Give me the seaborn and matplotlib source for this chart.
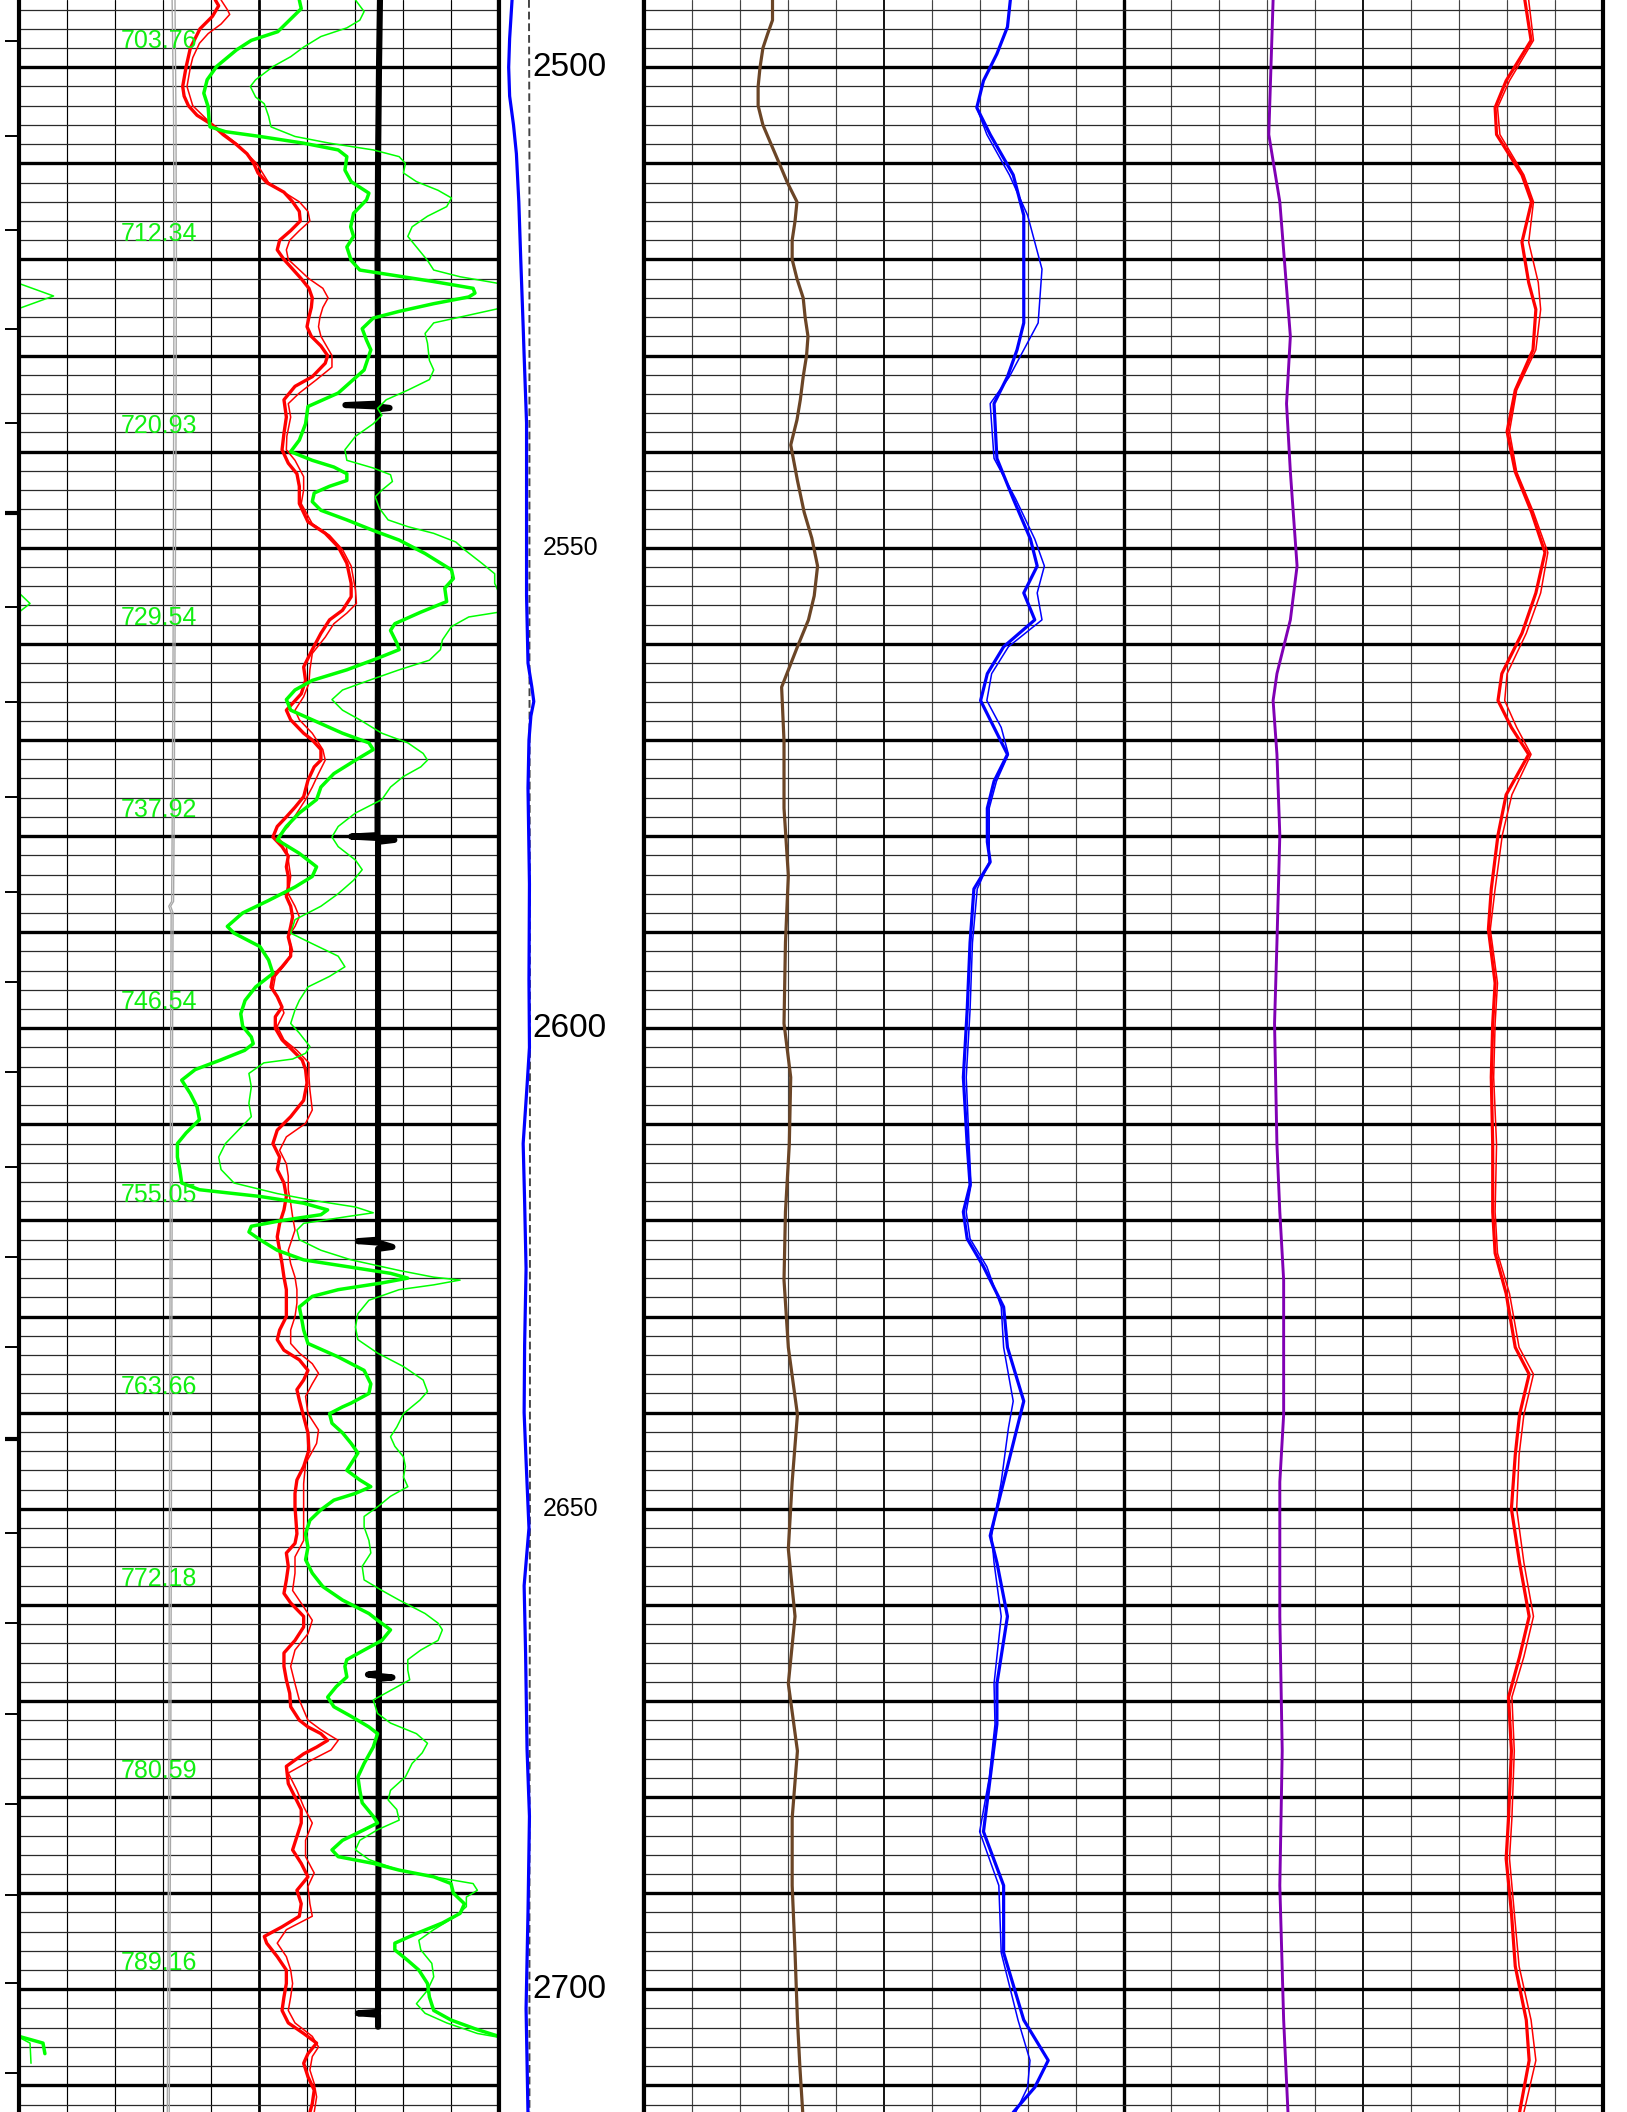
import matplotlib
matplotlib.use("Agg")
import matplotlib.pyplot as plt
import matplotlib.transforms as mtransforms
import seaborn as sns
import numpy as np

sns.set_theme(style="white")
plt.rcParams['font.family'] = ['Liberation Sans', 'DejaVu Sans']

# ---------------- data (depth, value) ----------------
# Left track (scale 0..10 divisions)
red_l_thick_depth = [2493.0,2493.6,2494.7,2496.0,2497.0,2498.0,2500.0,2502.0,2503.0,2504.0,2505.0,2506.0,2507.0,2508.0,2509.0,2510.0,2511.0,2512.0,2513.0,2514.0,2515.0,2516.0,2517.0,2518.0,2519.0,2520.0,2521.0,2522.0,2523.0,2524.0,2525.0,2526.0,2527.0,2528.0,2529.0,2530.0,2530.8,2532.2,2533.2,2534.6,2536.4,2538.1,2539.8,2541.2,2542.3,2543.6,2545.4,2547.3,2548.5,2549.9,2551.6,2553.7,2555.1,2556.5,2557.5,2558.9,2560.6,2562.4,2563.8,2565.2,2566.9,2567.9,2569.3,2570.0,2571.0,2572.1,2572.8,2574.2,2575.9,2577.0,2578.0,2579.0,2580.1,2581.1,2582.1,2583.2,2584.2,2585.3,2586.3,2587.3,2588.4,2589.4,2590.5,2591.5,2592.5,2593.6,2594.6,2595.7,2596.7,2597.8,2598.8,2600.0,2601.2,2602.3,2603.3,2604.3,2605.7,2607.5,2609.2,2610.6,2612.0,2613.4,2614.7,2616.1,2617.5,2618.9,2620.3,2621.7,2623.1,2624.5,2625.9,2627.2,2628.6,2630.0,2631.4,2632.4,2633.5,2634.5,2635.6,2636.6,2637.6,2638.7,2640.4,2642.1,2643.9,2645.6,2647.0,2648.4,2649.8,2651.2,2652.6,2653.6,2654.6,2656.0,2657.4,2658.8,2659.8,2661.2,2662.3,2663.7,2665.0,2666.4,2667.8,2669.2,2670.6,2672.0,2672.7,2673.4,2674.1,2674.8,2675.5,2676.8,2678.6,2680.0,2681.3,2682.7,2684.1,2685.5,2686.9,2688.3,2689.7,2691.1,2692.4,2693.5,2694.5,2695.2,2696.6,2698.0,2699.4,2700.8,2702.2,2703.5,2704.6,2705.6,2706.7,2707.7,2709.1,2710.5,2711.9,2712.8]
red_l_thick_val = [4.09,4.16,4.03,3.77,3.67,3.57,3.48,3.41,3.44,3.53,3.71,4.03,4.25,4.52,4.75,4.89,4.98,5.16,5.52,5.70,5.84,5.86,5.66,5.43,5.38,5.52,5.70,5.88,6.04,6.11,6.09,6.04,6.00,6.09,6.29,6.43,6.38,6.11,5.75,5.52,5.57,5.52,5.48,5.61,5.79,5.84,5.84,6.02,6.38,6.65,6.83,6.92,6.92,6.74,6.47,6.29,6.11,5.93,5.97,5.88,5.57,5.66,5.93,6.11,6.29,6.29,6.15,6.02,5.93,5.75,5.57,5.38,5.29,5.48,5.61,5.57,5.61,5.61,5.57,5.66,5.70,5.66,5.61,5.66,5.66,5.48,5.29,5.25,5.38,5.48,5.34,5.34,5.48,5.70,5.90,5.97,6.00,5.93,5.66,5.38,5.29,5.43,5.38,5.52,5.57,5.52,5.43,5.38,5.43,5.48,5.52,5.57,5.57,5.57,5.43,5.38,5.52,5.84,6.02,5.93,5.79,5.84,5.93,6.02,6.04,5.93,5.79,5.75,5.75,5.77,5.79,5.75,5.57,5.61,5.57,5.52,5.66,5.93,5.93,5.75,5.52,5.52,5.57,5.64,5.66,5.84,6.02,6.29,6.43,6.20,5.93,5.57,5.61,5.75,5.88,5.88,5.79,5.70,5.88,6.02,5.79,5.88,5.84,5.48,5.11,5.16,5.38,5.57,5.57,5.52,5.48,5.61,5.93,6.20,6.02,5.93,6.02,6.15,6.11,6.06]

red_l_thin_depth = [2493.0,2494.0,2494.5,2495.5,2496.5,2497.5,2499.0,2500.0,2502.0,2504.0,2506.0,2508.0,2510.0,2512.0,2514.0,2515.0,2516.0,2517.0,2518.0,2519.0,2520.0,2522.0,2523.0,2524.0,2525.0,2526.0,2527.0,2528.0,2530.0,2531.2,2532.5,2533.9,2535.0,2536.4,2538.4,2539.8,2540.9,2542.6,2544.0,2545.4,2547.5,2548.7,2550.2,2551.9,2554.4,2555.8,2556.8,2557.9,2559.3,2561.0,2562.7,2564.1,2565.5,2566.9,2567.9,2569.3,2571.0,2572.1,2573.5,2574.9,2576.2,2577.6,2579.0,2580.1,2581.1,2582.5,2584.2,2586.0,2587.3,2588.4,2589.4,2590.5,2591.9,2593.2,2594.6,2596.0,2597.1,2598.4,2599.8,2601.2,2602.3,2603.6,2605.0,2606.4,2608.5,2609.9,2611.3,2612.7,2614.1,2615.4,2616.8,2618.2,2619.6,2621.0,2623.1,2624.5,2625.9,2627.2,2628.6,2630.0,2631.4,2632.8,2633.8,2634.9,2635.9,2637.0,2638.3,2640.1,2641.8,2643.2,2645.3,2647.4,2649.1,2651.2,2653.3,2655.0,2656.7,2658.5,2660.2,2661.6,2663.0,2664.7,2666.4,2668.2,2669.9,2672.0,2673.0,2674.1,2675.1,2676.1,2677.5,2679.3,2681.0,2682.7,2684.5,2686.2,2687.9,2689.3,2691.1,2692.4,2693.8,2695.2,2696.6,2698.0,2699.4,2700.8,2702.2,2703.5,2704.9,2706.0,2707.0,2708.4,2709.8,2711.2,2712.8]
red_l_thin_val = [4.21,4.34,4.39,4.21,3.94,3.76,3.62,3.57,3.50,3.62,4.03,4.55,4.95,5.20,5.84,6.02,6.06,5.84,5.64,5.57,5.61,6.04,6.33,6.44,6.33,6.27,6.24,6.29,6.52,6.52,6.20,5.84,5.61,5.66,5.58,5.57,5.75,5.93,5.93,5.88,6.11,6.47,6.74,6.92,7.01,7.03,6.83,6.56,6.38,6.11,6.06,6.04,5.93,5.75,5.84,6.11,6.33,6.38,6.24,6.11,5.97,5.79,5.61,5.38,5.57,5.61,5.66,5.61,5.75,5.84,5.75,5.61,5.70,5.57,5.34,5.29,5.43,5.52,5.38,5.52,5.79,6.04,6.04,6.06,6.11,5.97,5.57,5.43,5.57,5.61,5.61,5.66,5.70,5.75,5.61,5.66,5.75,5.79,5.79,5.75,5.66,5.66,5.84,6.11,6.24,6.11,5.97,6.02,6.24,6.20,5.97,5.93,5.93,5.93,5.93,5.75,5.75,5.70,5.93,6.11,6.02,5.75,5.66,5.75,5.84,6.02,6.29,6.65,6.50,6.11,5.61,5.79,5.93,6.11,5.97,5.97,6.15,6.02,6.06,6.11,5.57,5.38,5.57,5.66,5.70,5.66,5.61,5.75,6.11,6.24,6.11,6.06,6.15,6.20,6.15]

green_l_thick_depth = [2493.0,2493.9,2496.3,2497.2,2498.2,2499.9,2501.3,2502.7,2504.1,2505.5,2506.2,2506.7,2507.2,2507.9,2508.6,2509.3,2510.7,2511.9,2513.1,2513.8,2515.2,2516.6,2517.6,2518.7,2520.1,2521.1,2521.6,2522.3,2523.0,2523.5,2523.9,2524.6,2525.4,2526.1,2527.2,2528.4,2529.4,2531.5,2533.9,2535.3,2537.1,2538.8,2540.0,2540.9,2541.6,2542.3,2543.0,2543.6,2544.3,2545.2,2546.1,2547.1,2548.2,2549.2,2550.6,2552.3,2553.2,2554.2,2555.6,2556.7,2557.9,2558.6,2559.9,2560.6,2561.5,2562.7,2563.8,2564.8,2565.8,2566.9,2567.9,2569.3,2570.3,2571.0,2572.1,2573.5,2574.9,2576.2,2577.6,2579.0,2580.4,2581.8,2583.2,2584.2,2585.3,2586.7,2588.0,2589.4,2590.1,2591.5,2592.9,2594.3,2595.7,2597.1,2598.5,2599.8,2600.9,2601.6,2602.3,2603.3,2604.3,2605.4,2606.8,2608.2,2609.5,2610.9,2612.0,2613.4,2614.7,2616.1,2616.8,2617.5,2618.2,2618.9,2619.4,2620.0,2620.6,2621.2,2622.0,2623.1,2624.1,2624.8,2625.5,2626.0,2626.5,2627.2,2627.9,2629.0,2630.0,2631.4,2632.8,2634.2,2635.6,2637.0,2638.0,2639.0,2639.4,2640.1,2641.1,2642.1,2643.2,2644.2,2644.9,2646.0,2647.0,2647.7,2648.4,2649.1,2650.1,2651.2,2652.6,2654.0,2655.3,2656.7,2658.1,2659.5,2660.9,2661.6,2662.6,2663.7,2664.7,2665.7,2666.4,2667.5,2668.5,2669.6,2670.6,2671.6,2672.7,2673.4,2674.8,2676.5,2677.9,2679.3,2680.6,2682.0,2682.7,2683.4,2684.5,2685.5,2686.2,2686.9,2687.6,2688.3,2689.0,2690.0,2691.1,2692.1,2693.1,2694.2,2695.2,2695.9,2697.0,2698.0,2699.4,2700.8,2702.2,2703.2,2704.2,2704.9,2705.6,2706.7]
green_l_thick_val = [5.84,5.88,5.39,4.84,4.53,4.12,3.92,3.85,3.94,3.96,3.98,4.30,5.02,5.93,6.65,6.83,6.79,6.92,7.29,7.24,6.97,6.91,6.97,6.83,6.92,7.10,7.74,8.64,9.46,9.50,9.37,8.64,7.92,7.38,7.15,7.24,7.33,7.19,6.65,6.02,5.97,5.84,5.66,6.11,6.56,6.83,6.83,6.47,6.15,6.11,6.29,6.83,7.38,7.92,8.46,9.01,9.05,8.87,8.91,8.37,7.83,7.74,7.87,7.92,7.47,6.83,6.11,5.75,5.57,5.66,6.11,6.74,7.29,7.38,7.01,6.56,6.29,6.20,5.84,5.57,5.38,5.84,6.20,6.11,5.75,5.20,4.66,4.34,4.48,5.02,5.20,5.29,4.93,4.71,4.62,4.66,4.84,4.88,4.70,4.20,3.67,3.39,3.57,3.71,3.76,3.48,3.30,3.30,3.35,3.39,3.76,5.02,5.93,6.43,6.29,5.48,4.84,4.79,5.02,5.38,5.93,6.83,7.74,8.10,7.56,6.65,6.11,5.84,5.88,5.93,6.02,6.65,7.19,7.33,7.29,6.92,6.74,6.47,6.52,6.74,6.92,7.06,6.97,6.83,7.10,7.33,7.01,6.56,6.29,6.06,5.97,6.02,5.97,6.11,6.33,6.74,7.29,7.47,7.74,7.56,7.19,6.83,6.79,6.83,6.61,6.43,6.56,6.92,7.29,7.47,7.38,7.19,7.06,7.10,7.15,7.38,7.47,7.19,6.74,6.52,6.65,7.38,7.92,8.64,9.00,9.05,9.28,9.19,8.82,8.28,7.83,7.83,8.10,8.33,8.51,8.55,8.64,9.00,9.55,10.00,10.50,10.54]

green_l_thin_depth = [2493.0,2494.2,2495.1,2495.9,2496.8,2497.9,2498.9,2499.9,2501.3,2502.0,2503.1,2503.8,2505.1,2506.2,2507.2,2507.9,2508.6,2509.3,2510.0,2511.0,2511.9,2512.8,2513.6,2514.5,2515.5,2516.6,2517.6,2518.7,2520.1,2521.1,2521.8,2522.5,2523.8,2525.1,2526.0,2526.6,2527.7,2528.7,2530.5,2531.5,2532.5,2533.6,2534.6,2535.5,2536.2,2537.1,2538.4,2539.8,2540.9,2541.7,2542.4,2543.1,2544.0,2544.7,2545.9,2547.1,2547.8,2548.5,2549.4,2550.2,2551.6,2552.7,2553.7,2554.7,2555.8,2556.7,2557.2,2558.2,2559.6,2560.6,2561.7,2562.7,2563.8,2564.8,2565.8,2566.9,2567.9,2569.3,2570.3,2571.4,2572.1,2572.8,2573.8,2574.9,2576.2,2577.6,2579.0,2580.1,2581.1,2582.5,2583.5,2584.6,2586.0,2587.3,2588.7,2590.1,2591.2,2592.5,2593.6,2594.6,2595.7,2597.1,2598.1,2599.5,2600.5,2601.9,2602.6,2603.2,2603.6,2604.7,2606.1,2607.8,2609.2,2610.6,2612.0,2613.4,2614.7,2616.1,2617.2,2617.9,2618.6,2619.2,2619.6,2620.3,2621.0,2622.0,2623.1,2624.1,2625.2,2625.9,2626.2,2626.7,2627.2,2628.3,2629.7,2631.1,2632.4,2633.8,2635.2,2636.6,2637.8,2638.7,2640.1,2641.5,2642.5,2643.5,2644.6,2645.6,2646.7,2647.7,2648.7,2649.8,2650.8,2651.9,2653.3,2654.6,2656.0,2657.4,2658.5,2659.5,2660.9,2661.9,2662.6,2663.7,2664.7,2665.7,2666.8,2667.8,2668.9,2669.9,2671.3,2672.3,2673.4,2674.4,2675.4,2676.5,2677.9,2679.3,2680.3,2681.3,2682.4,2683.4,2684.5,2685.5,2686.5,2687.6,2688.3,2689.0,2689.7,2690.4,2691.4,2692.4,2693.8,2694.9,2695.9,2697.3,2698.7,2700.1,2701.5,2702.5,2703.5,2704.6,2705.0,2705.6,2707.7]
green_l_thin_val = [7.01,7.19,7.10,6.83,6.29,5.93,5.66,5.30,4.93,4.82,4.93,5.11,5.20,5.25,5.75,6.47,7.38,7.92,8.05,8.01,8.28,8.73,9.01,8.91,8.51,8.19,8.10,8.28,8.51,8.64,9.19,10.00,10.72,10.00,9.19,8.64,8.46,8.51,8.55,8.64,8.55,8.10,7.65,7.47,7.56,7.38,7.01,6.79,6.83,7.38,7.74,7.78,7.56,7.42,7.51,7.69,8.10,8.64,9.10,9.28,9.64,9.91,9.91,10.00,10.23,10.00,9.37,9.01,8.82,8.78,8.55,7.92,7.29,6.74,6.52,6.74,7.10,7.56,8.10,8.42,8.51,8.37,8.01,7.74,7.56,7.01,6.65,6.52,6.65,7.01,7.15,6.97,6.65,6.29,5.75,5.66,6.11,6.65,6.79,6.47,6.02,5.84,5.75,5.66,5.84,6.06,5.97,5.70,5.10,4.79,4.84,4.79,4.84,4.57,4.30,4.16,4.21,4.48,5.38,6.11,7.01,7.38,6.83,5.93,5.79,5.84,6.29,6.92,7.92,8.64,9.19,8.64,7.92,7.29,7.06,7.01,7.06,7.47,8.01,8.42,8.51,8.35,8.01,7.87,7.74,7.83,8.01,8.05,8.01,8.10,7.74,7.47,7.19,7.19,7.29,7.33,7.15,7.19,7.56,7.92,8.46,8.73,8.82,8.73,8.37,8.10,8.10,8.14,7.74,7.38,7.47,7.74,8.28,8.51,8.40,8.19,8.05,7.74,7.69,7.87,7.92,7.47,7.10,7.01,7.29,7.92,8.64,9.46,9.55,9.32,9.32,9.10,8.64,8.33,8.37,8.60,8.64,8.51,8.28,8.46,8.91,9.55,10.00,10.23,10.25]

black_l_depth = [2493.0,2500.0,2510.0,2520.0,2530.0,2535.0,2535.15,2535.3,2535.45,2535.6,2545.0,2560.0,2575.0,2579.9,2580.05,2580.2,2580.4,2580.6,2595.0,2610.0,2622.0,2622.15,2622.3,2622.75,2622.95,2640.0,2655.0,2667.1,2667.25,2667.4,2667.55,2667.7,2685.0,2700.0,2702.35,2702.5,2702.65,2703.9]
black_l_val = [7.52,7.50,7.48,7.47,7.48,7.48,6.80,7.48,7.72,7.48,7.47,7.48,7.47,7.47,6.92,7.48,7.82,7.48,7.48,7.48,7.48,7.06,7.48,7.78,7.48,7.49,7.50,7.50,7.27,7.50,7.78,7.50,7.49,7.48,7.48,7.06,7.48,7.48]

grey_l_depth = [2493.0,2505.0,2520.0,2540.0,2560.0,2580.0,2586.8,2587.3,2588.0,2600.0,2620.0,2640.0,2660.0,2680.0,2700.0,2712.8]
grey_l_a_val = [3.19,3.22,3.23,3.22,3.21,3.19,3.18,3.12,3.17,3.16,3.15,3.14,3.13,3.12,3.10,3.09]
grey_l_b_val = [3.25,3.27,3.28,3.27,3.25,3.23,3.22,3.16,3.21,3.20,3.19,3.18,3.17,3.16,3.14,3.13]

label_depths = [2497.3,2517.3,2537.3,2557.3,2577.3,2597.3,2617.3,2637.3,2657.3,2677.3,2697.3]
label_texts = ["703.76","712.34","720.93","729.54","737.92","746.54","755.05","763.66","772.18","780.59","789.16"]
tick_depths = [2497.3,2507.1,2516.9,2527.2,2537.0,2546.4,2556.2,2566.1,2575.9,2585.8,2595.2,2604.5,2614.4,2623.8,2633.2,2642.7,2652.5,2661.9,2671.4,2680.7,2690.2,2699.3,2708.7]
tick_bold = [2546.4, 2642.7]

# Depth track (scale 0..3 divisions)
blue_d_depth = [2493,2497,2500,2503,2506,2509,2514,2520,2527,2530,2537,2545,2555,2562,2564.5,2566,2567.5,2570,2575,2585,2595,2602,2606,2612,2618,2625,2633,2640,2645,2652,2658,2665,2675,2682,2692,2702,2713]
blue_d_val = [0.27,0.22,0.20,0.22,0.30,0.36,0.41,0.45,0.50,0.52,0.57,0.57,0.57,0.60,0.68,0.72,0.66,0.62,0.60,0.63,0.62,0.63,0.58,0.50,0.53,0.56,0.53,0.52,0.56,0.62,0.52,0.55,0.58,0.63,0.60,0.56,0.60]
grey_d_depth = [2493,2510,2535,2560,2600,2650,2690,2713]
grey_d_val = [0.62,0.63,0.63,0.63,0.64,0.64,0.63,0.63]
depth_major = [2500, 2600, 2700]
depth_minor = [2550, 2650]

# Right track (scale 0..20 divisions)
brown_depth = [2493.0,2495.1,2496.5,2498.0,2500.0,2502.0,2504.0,2506.0,2508.0,2510.1,2512.0,2514.0,2516.0,2518.0,2520.0,2522.0,2524.0,2526.0,2528.0,2530.0,2532.2,2534.6,2536.7,2539.3,2543.0,2546.3,2549.0,2551.9,2555.0,2557.5,2560.3,2564.5,2570.1,2577.1,2584.1,2591.1,2599.5,2605.1,2612.1,2619.1,2626.2,2633.2,2640.2,2647.2,2654.2,2661.2,2668.2,2675.2,2682.2,2689.2,2696.2,2703.2,2708.0,2712.8]
brown_val = [2.68,2.68,2.58,2.48,2.42,2.38,2.38,2.48,2.65,2.83,2.99,3.19,3.15,3.09,3.09,3.19,3.32,3.36,3.42,3.39,3.32,3.26,3.19,3.06,3.20,3.34,3.50,3.62,3.55,3.43,3.20,2.87,2.92,2.92,3.01,2.95,2.92,3.06,3.03,2.95,2.92,3.01,3.20,3.09,3.01,3.15,3.01,3.20,3.09,3.09,3.15,3.20,3.25,3.31]

blue_r_depth = [2493.0,2495.8,2498.6,2501.4,2504.2,2507.0,2511.2,2515.4,2521.0,2526.6,2529.4,2532.2,2535.0,2540.7,2544.9,2549.1,2551.9,2554.7,2557.5,2560.3,2563.1,2565.9,2568.7,2571.5,2574.3,2577.1,2580.6,2582.7,2585.5,2591.1,2598.1,2605.1,2612.1,2616.3,2619.1,2621.9,2624.8,2629.0,2633.2,2638.8,2641.6,2647.2,2652.8,2655.6,2661.2,2668.2,2672.4,2678.0,2683.6,2689.2,2696.2,2703.2,2707.4,2710.2,2712.8]
blue_r_thick_val = [7.64,7.58,7.36,7.08,6.94,7.22,7.70,7.92,7.92,7.92,7.78,7.58,7.30,7.36,7.70,8.06,8.20,7.92,8.15,7.50,7.16,7.02,7.30,7.58,7.30,7.16,7.16,7.22,6.88,6.80,6.74,6.66,6.74,6.80,6.66,6.74,7.08,7.50,7.58,7.92,7.78,7.50,7.22,7.36,7.58,7.36,7.36,7.22,7.08,7.50,7.50,7.92,8.43,8.15,7.70]
blue_r_thin_val = [7.64,7.58,7.36,7.08,6.94,7.15,7.62,8.00,8.30,8.22,7.92,7.62,7.22,7.30,7.75,8.15,8.35,8.20,8.30,7.60,7.25,7.15,7.45,7.60,7.35,7.20,7.20,7.20,6.95,6.85,6.80,6.72,6.78,6.82,6.72,6.80,7.15,7.45,7.50,7.70,7.60,7.45,7.25,7.30,7.45,7.30,7.32,7.20,7.00,7.40,7.45,7.80,8.05,8.00,7.75]

purple_depth = [2493.0,2507.0,2514.0,2528.0,2535.0,2542.1,2551.9,2557.5,2563.1,2565.9,2571.5,2579.9,2591.1,2599.5,2612.1,2619.1,2626.2,2633.2,2640.2,2647.2,2661.2,2675.2,2689.2,2703.2,2712.8]
purple_val = [13.12,13.03,13.26,13.48,13.40,13.48,13.62,13.48,13.20,13.12,13.20,13.26,13.20,13.15,13.20,13.26,13.34,13.34,13.34,13.26,13.26,13.31,13.26,13.34,13.43]

red_r_depth = [2493.0,2497.2,2501.4,2504.2,2507.0,2511.2,2514.0,2518.2,2522.4,2525.2,2529.4,2533.6,2537.9,2542.1,2546.3,2550.5,2554.7,2558.9,2563.1,2565.9,2568.7,2571.5,2575.7,2579.9,2585.5,2589.7,2595.3,2599.5,2605.1,2612.1,2619.1,2623.4,2627.6,2633.2,2636.0,2640.2,2644.4,2650.0,2655.6,2661.2,2665.4,2669.6,2675.2,2682.2,2686.4,2692.0,2697.6,2703.2,2707.4,2712.8]
red_r_thick_val = [18.37,18.50,17.98,17.75,17.78,18.31,18.51,18.31,18.45,18.60,18.54,18.17,18.00,18.17,18.51,18.79,18.60,18.31,17.89,17.81,18.09,18.45,17.98,17.81,17.67,17.61,17.75,17.70,17.67,17.70,17.70,17.75,17.98,18.17,18.46,18.26,18.17,18.09,18.26,18.46,18.26,18.03,18.09,18.03,17.98,18.09,18.17,18.40,18.46,18.26]
red_r_thin_val = [18.45,18.55,18.05,17.80,17.85,18.35,18.55,18.45,18.65,18.70,18.60,18.20,18.05,18.20,18.55,18.85,18.70,18.40,18.00,17.95,18.20,18.50,18.10,17.90,17.75,17.65,17.80,17.75,17.72,17.78,17.75,17.80,18.05,18.25,18.55,18.35,18.25,18.20,18.35,18.55,18.35,18.10,18.15,18.10,18.05,18.15,18.25,18.50,18.60,18.35]

# ---------------- layout ----------------
W, H = 1627, 2112
DTOP, DBOT = 2493.0, 2712.77
fig = plt.figure(figsize=(W / 100, H / 100), dpi=100)
fig.patch.set_facecolor("white")

axL = fig.add_axes([19 / W, 0, 480 / W, 1])
axD = fig.add_axes([499 / W, 0, 145 / W, 1])
axR = fig.add_axes([644 / W, 0, 959 / W, 1])


def curve(ax, depth, vals, color, lw, ls="-", z=3):
    sns.lineplot(x=vals, y=depth, orient="y", estimator=None, sort=False,
                 color=color, linewidth=lw, linestyle=ls, ax=ax, legend=False,
                 zorder=z)


def setup(ax, xmax, grid=True):
    ax.set_xlim(0, xmax)
    ax.set_ylim(DBOT, DTOP)
    ax.set_facecolor("white")
    ax.set_xlabel("")
    ax.set_ylabel("")
    ax.set_xticks([])
    ax.set_yticks([])
    for s in ("top", "bottom"):
        ax.spines[s].set_visible(False)
    for s in ("left", "right"):
        ax.spines[s].set_visible(True)
        ax.spines[s].set_color("black")
        ax.spines[s].set_linewidth(3.0)
        ax.spines[s].set_zorder(6)
    if grid:
        for dep in range(2494, 2714, 2):
            if dep % 10 == 0:
                ax.axhline(dep, color="black", lw=2.4, zorder=1)
            else:
                ax.axhline(dep, color="#2a2a2a", lw=0.9, zorder=1)


# Left track grid
for k in range(1, 10):
    axL.axvline(k, color="black", lw=2.0 if k == 5 else 0.85, zorder=1)
# Right track grid
for k in range(1, 20):
    if k == 10:
        axR.axvline(k, color="black", lw=2.4, zorder=1)
    elif k in (5, 15):
        axR.axvline(k, color="black", lw=1.3, zorder=1)
    else:
        axR.axvline(k, color="#444444", lw=0.85, zorder=1)

# ---- left track curves ----
curve(axL, grey_l_depth, grey_l_a_val, "#a8a8a8", 1.0)
curve(axL, grey_l_depth, grey_l_b_val, "#a8a8a8", 1.0)
curve(axL, red_l_thin_depth, red_l_thin_val, "#ff0000", 1.1)
curve(axL, red_l_thick_depth, red_l_thick_val, "#ff0000", 2.4)
curve(axL, black_l_depth, black_l_val, "black", 4.4, z=4)
curve(axL, green_l_thin_depth, green_l_thin_val, "#00ff00", 1.1, z=5)
curve(axL, green_l_thick_depth, green_l_thick_val, "#00ff00", 2.5, z=5)
# wrapped (backup scale) parts of the green curves
curve(axL, green_l_thin_depth, [v - 10 for v in green_l_thin_val], "#00ff00", 1.1, z=5)
curve(axL, green_l_thick_depth, [v - 10 for v in green_l_thick_val], "#00ff00", 2.5, z=5)

for dep, txt in zip(label_depths, label_texts):
    axL.text(2.12, dep, txt, color="#11ee11", fontsize=18, ha="left",
             va="center", zorder=7, family=["Liberation Sans", "DejaVu Sans"])

trans = mtransforms.blended_transform_factory(axL.transAxes, axL.transData)
for dep in tick_depths:
    bold = dep in tick_bold
    axL.plot([-0.030, 0.0], [dep, dep], transform=trans, clip_on=False,
             color="black", lw=3.0 if bold else 1.4, solid_capstyle="butt")

# ---- depth track ----
curve(axD, grey_d_depth, grey_d_val, "#444444", 1.4, ls=(0, (4, 2)))
curve(axD, blue_d_depth, blue_d_val, "#0000ff", 2.3)
for dep in depth_major:
    axD.text(0.7, dep, str(dep), fontsize=24, ha="left", va="center",
             color="black", zorder=7)
for dep in depth_minor:
    axD.text(0.9, dep, str(dep), fontsize=18, ha="left", va="center",
             color="black", zorder=7)

# ---- right track curves ----
curve(axR, brown_depth, brown_val, "#6b4526", 2.3)
curve(axR, blue_r_depth, blue_r_thin_val, "#0000ff", 1.1)
curve(axR, blue_r_depth, blue_r_thick_val, "#0000ff", 2.3)
curve(axR, purple_depth, purple_val, "#8000b4", 2.1)
curve(axR, red_r_depth, red_r_thin_val, "#ff0000", 1.1)
curve(axR, red_r_depth, red_r_thick_val, "#ff0000", 2.3)

setup(axL, 10)
setup(axD, 3, grid=False)
setup(axR, 20)

fig.savefig("out.png", dpi=100, facecolor="white")
